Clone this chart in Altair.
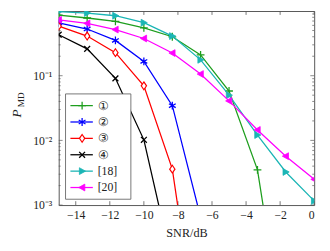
import altair as alt
import pandas as pd

# ---- data ----
snr = [-15, -13.33, -11.67, -10, -8.33, -6.67, -5, -3.33, -1.67, 0]
p_1 = [0.865, 0.78, 0.69, 0.55, 0.40, 0.21, 0.058, 0.0035, 6e-6]
p_2 = [0.653, 0.527, 0.351, 0.166, 0.0344, 6.5e-4]
p_3 = [0.583, 0.41, 0.227, 0.0697, 0.00359, 4e-6]
p_4 = [0.43, 0.26, 0.091, 0.0102, 1.2e-4]
p_18 = [0.98, 0.93, 0.845, 0.66, 0.41, 0.176, 0.050, 0.0121, 0.00325, 0.00116]
p_20 = [0.73, 0.645, 0.516, 0.376, 0.224, 0.106, 0.0408, 0.0145, 0.0057, 0.0025]
labels = ["①", "②", "③", "④", "\u00a0\u00a0[18]", "\u00a0\u00a0[20]"]
values = [p_1, p_2, p_3, p_4, p_18, p_20]

x_ticks = [-14, -12, -10, -8, -6, -4, -2, 0]
y_major = [0.001, 0.01, 0.1]
y_minor = [k * 10.0 ** e for e in (-3, -2, -1) for k in range(2, 10)]

# ---- styles ----
colors = ["#1E9E1E", "#0000FF", "#FF0000", "#000000", "#1BB5B5", "#FF00FF"]
shapes = [
    "M-1,0L1,0M0,-1L0,1",
    "M0,-1L0,1M-0.87,-0.5L0.87,0.5M-0.87,0.5L0.87,-0.5",
    "M0,-1L0.68,0L0,1L-0.68,0Z",
    "M-1,-1L1,1M-1,1L1,-1",
    "M-0.8,-1L1,0L-0.8,1Z",
    "M0.8,-1L-1,0L0.8,1Z",
]
sizes = [64, 64, 64, 36, 49, 49]
fills = [None, None, "white", None, "fill", "fill"]

W, H = 262, 199
FONT = "Liberation Serif"
TXT = "#222222"

xs = alt.Scale(domain=[-15, 0], nice=False, zero=False)
ys = alt.Scale(type="log", domain=[0.001, 1], nice=False)

xaxis = alt.Axis(title="SNR/dB", values=x_ticks, ticks=False, domain=False, grid=False,
                 labelFont=FONT, labelFontSize=12, labelColor=TXT, labelPadding=5,
                 titleFont=FONT, titleFontSize=12.5, titleFontWeight="normal",
                 titleColor=TXT, titlePadding=6)
yaxis = alt.Axis(title=None, values=y_major, ticks=False, domain=False, grid=False,
                 labelFont=FONT, labelFontSize=12, labelColor=TXT, labelPadding=7,
                 labelExpr="datum.value < 0.005 ? '10⁻³' : (datum.value < 0.05 ? '10⁻²' : '10⁻¹')")

layers = []

# inward tick marks (pgfplots style box)
xt = pd.DataFrame({"xt": x_ticks})
for y0, y1 in ((H, H - 4), (0, 4)):
    layers.append(alt.Chart(xt).mark_rule(color="#555", strokeWidth=0.8).encode(
        x=alt.X("xt:Q", scale=xs, axis=xaxis), y=alt.value(y0), y2=alt.value(y1)))
ymj = pd.DataFrame({"yt": y_major})
ymn = pd.DataFrame({"yt": y_minor})
for df, ln in ((ymj, 4), (ymn, 2)):
    for x0, x1 in ((0, ln), (W, W - ln)):
        layers.append(alt.Chart(df).mark_rule(color="#555", strokeWidth=0.7).encode(
            y=alt.Y("yt:Q", scale=ys, axis=yaxis), x=alt.value(x0), x2=alt.value(x1)))

# series
for i in range(6):
    df = pd.DataFrame({"snr": snr[:len(values[i])], "p": values[i]})
    enc = dict(x=alt.X("snr:Q", scale=xs, axis=xaxis), y=alt.Y("p:Q", scale=ys, axis=yaxis))
    layers.append(alt.Chart(df).mark_line(color=colors[i], strokeWidth=1.3, clip=True).encode(**enc))
    if fills[i] is None:
        pm = alt.Chart(df).mark_point(shape=shapes[i], size=sizes[i], filled=False,
                                      stroke=colors[i], strokeWidth=1.3, opacity=1, clip=True)
    elif fills[i] == "white":
        pm = alt.Chart(df).mark_point(shape=shapes[i], size=sizes[i], filled=True, fill="white",
                                      stroke=colors[i], strokeWidth=1.2, opacity=1, clip=True)
    else:
        pm = alt.Chart(df).mark_point(shape=shapes[i], size=sizes[i], filled=True, fill=colors[i],
                                      stroke=colors[i], strokeWidth=0.8, opacity=1, clip=True)
    layers.append(pm.encode(**enc))

# legend
one = pd.DataFrame({"k": [0]})
layers.append(alt.Chart(one).mark_rect(fill="white", stroke="#666", strokeWidth=0.9).encode(
    x=alt.value(7), x2=alt.value(74), y=alt.value(85), y2=alt.value(193)))
for i in range(6):
    ry = 97 + i * 16.8
    layers.append(alt.Chart(one).mark_rule(color=colors[i], strokeWidth=1.3).encode(
        x=alt.value(12), x2=alt.value(35), y=alt.value(ry)))
    if fills[i] is None:
        pm = alt.Chart(one).mark_point(shape=shapes[i], size=sizes[i], filled=False,
                                       stroke=colors[i], strokeWidth=1.3, opacity=1)
    elif fills[i] == "white":
        pm = alt.Chart(one).mark_point(shape=shapes[i], size=sizes[i], filled=True, fill="white",
                                       stroke=colors[i], strokeWidth=1.2, opacity=1)
    else:
        pm = alt.Chart(one).mark_point(shape=shapes[i], size=sizes[i], filled=True, fill=colors[i],
                                       stroke=colors[i], strokeWidth=0.8, opacity=1)
    layers.append(pm.encode(x=alt.value(24), y=alt.value(ry)))
    layers.append(alt.Chart(pd.DataFrame({"t": [labels[i]]})).mark_text(
        font=FONT, fontSize=12, color=TXT, align="left", baseline="middle").encode(
        x=alt.value(40), y=alt.value(ry), text="t:N"))

# y-axis title P_MD
layers.append(alt.Chart(pd.DataFrame({"t": ["P"]})).mark_text(
    font=FONT, fontSize=13.5, fontStyle="italic", color=TXT, angle=270,
    align="center", baseline="alphabetic").encode(x=alt.value(-39), y=alt.value(105), text="t:N"))
layers.append(alt.Chart(pd.DataFrame({"t": ["MD"]})).mark_text(
    font=FONT, fontSize=9.5, color=TXT, angle=270,
    align="center", baseline="alphabetic").encode(x=alt.value(-36), y=alt.value(91), text="t:N"))

chart = alt.layer(*layers).properties(
    width=W, height=H,
    autosize=alt.AutoSizeParams(type="none"),
    padding={"left": 52, "top": 0, "right": 8, "bottom": 44},
).configure_view(stroke="#555", strokeWidth=1)

chart.save("out.html", embed_options={"renderer": "svg", "actions": False})
